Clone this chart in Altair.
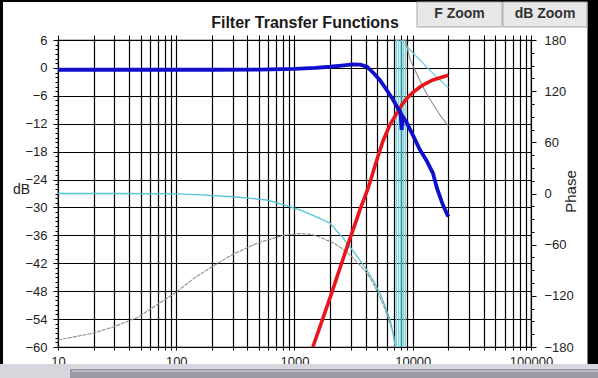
import altair as alt
import pandas as pd

# ---------------- data ----------------
lp_freq = [10, 20, 50, 100, 200, 500, 1000, 1500, 2000, 2500, 3100, 3600, 4100, 4700,
           5300, 6000, 6800, 7500, 7900, 8050, 8200, 8900, 10000, 11500, 13000, 14800,
           16000, 18000, 20000]
lp_db = [-0.4, -0.4, -0.4, -0.4, -0.4, -0.35, -0.2, 0.0, 0.25, 0.5, 0.75, 0.7, 0.25, -1.2,
         -2.7, -4.7, -6.8, -8.7, -9.6, -13.3, -10.4, -11.8, -14.4, -17.6, -19.8, -22.6,
         -25.8, -29.5, -32.0]

hp_freq = [1430, 2000, 2650, 3600, 4200, 4900, 5600, 6400, 7360, 8100, 8940, 10000,
           11500, 13000, 14800, 17000, 20000]
hp_db = [-60, -49.4, -40.1, -30.3, -25.8, -20.3, -15.7, -12.3, -9.7, -7.9, -6.5, -5.3,
         -4.1, -3.3, -2.6, -2.1, -1.6]

cy_freq = [10, 30, 100, 160, 300, 585, 800, 1110, 1500, 2000, 2500, 2950, 3500, 4100,
           4700, 5280, 5900, 6430, 6800, 7100]
cy_db = [-27.0, -27.0, -27.1, -27.3, -27.7, -28.4, -29.4, -30.5, -31.9, -33.4, -36.2,
         -38.5, -41.0, -43.5, -46.0, -48.5, -51.5, -54.2, -56.8, -60.0]

gr_freq = [10, 20, 30, 47.5, 70, 100, 140, 193, 300, 482, 800, 1110, 1400, 1650, 2200,
           2780, 3400, 4100, 4700, 5280, 5900, 6430, 6900, 7300]
gr_db = [-58.5, -57.0, -55.6, -53.6, -50.8, -48.2, -45.3, -43.0, -40.1, -37.7, -36.0,
         -35.6, -35.8, -36.4, -37.8, -39.6, -41.8, -44.1, -46.6, -49.3, -52.2, -54.9,
         -57.5, -60.0]

ph1_freq = [7250, 7250, 7600, 7600, 7950, 7950, 8300, 8300, 8650, 8650,
            8940, 10000, 11500, 13000, 14800, 17000, 20000]
ph1_deg = [-180, 180, 180, -180, -180, 180, 180, -180, -180, 180,
           172, 165, 156.5, 149, 141, 133, 124]

ph2_freq = [8650, 9500, 11000, 12500, 14500, 17000, 20000]
ph2_deg = [180, 157, 138, 122, 107, 92, 79]

x_ticks = [m * 10 ** k for k in range(1, 5) for m in range(1, 10)] + [100000]
x_labels = [10, 100, 1000, 10000, 100000]
db_ticks = list(range(-60, 7))
phase_ticks = list(range(-180, 181, 15))

title_text = "Filter Transfer Functions"
btn1_text = "F Zoom"
btn2_text = "dB Zoom"

# ---------------- layout ----------------
W, H = 473, 307
FONT = "Liberation Sans"
BLACK = "#000000"

xscale = alt.Scale(type="log", domain=[10, 100000], nice=False)
dbscale = alt.Scale(domain=[-60, 6], nice=False, zero=False)
phscale = alt.Scale(domain=[-180, 180], nice=False, zero=False)

lab_expr_x = "indexof(%s, datum.value) >= 0 ? format(datum.value, 'd') : ''" % str(x_labels)

x_bottom = alt.Axis(values=x_ticks, labelExpr=lab_expr_x, grid=True, gridColor=BLACK,
                    gridWidth=1.2, tickSize=3, tickColor=BLACK, domain=False,
                    labelFont=FONT, labelFontSize=13, labelColor="#222222",
                    labelPadding=5, labelFlush=False, labelOverlap=False,
                    labelBound=False, title=None)
x_top = alt.Axis(orient="top", values=x_ticks, labels=False, grid=False, tickSize=5,
                 tickColor=BLACK, domain=False, title=None)

y_left = alt.Axis(values=db_ticks,
                  labelExpr="datum.value % 6 == 0 ? datum.label : ''",
                  grid=True, gridColor=BLACK, gridWidth=1.2,
                  gridOpacity={"condition": {"test": "datum.value % 6 == 0", "value": 1}, "value": 0},
                  tickSize={"condition": {"test": "datum.value % 6 == 0", "value": 5}, "value": 3},
                  tickColor=BLACK, domain=False, labelFont=FONT, labelFontSize=13,
                  labelColor="#222222", labelPadding=6, labelOverlap=False,
                  labelBound=False, labelFlush=False,
                  title="dB", titleAngle=0, titleX=-37, titleY=149, titleAlign="center",
                  titleBaseline="middle", titleFont=FONT, titleFontSize=14,
                  titleFontWeight="normal", titleColor="#222222")
y_right = alt.Axis(orient="right", values=phase_ticks,
                   labelExpr="datum.value % 60 == 0 ? datum.label : ''",
                   grid=False,
                   tickSize={"condition": {"test": "datum.value % 60 == 0", "value": 5}, "value": 3},
                   tickColor=BLACK, domain=False, labelFont=FONT, labelFontSize=13,
                   labelColor="#222222", labelPadding=8, labelOverlap=False,
                   labelBound=False, labelFlush=False,
                   title="Phase", titleAngle=270, titleX=39, titleY=151,
                   titleAlign="center", titleBaseline="middle", titleFont=FONT,
                   titleFontSize=15, titleFontWeight="normal", titleColor="#222222")


def db_line(freq, db, color, width, xaxis=None, yaxis=None, dash=None):
    df = pd.DataFrame({"f": freq, "v": db, "i": list(range(len(freq)))})
    kw = dict(color=color, strokeWidth=width, clip=True)
    if dash:
        kw["strokeDash"] = dash
    return alt.Chart(df).mark_line(**kw).encode(
        x=alt.X("f:Q", scale=xscale, axis=xaxis),
        y=alt.Y("v:Q", scale=dbscale, axis=yaxis),
        order=alt.Order("i:Q"),
    )


def ph_line(freq, deg, color, width, xaxis=None, yaxis=None, opacity=1.0):
    df = pd.DataFrame({"f": freq, "p": deg, "i": list(range(len(freq)))})
    return alt.Chart(df).mark_line(color=color, strokeWidth=width, clip=True,
                                   opacity=opacity).encode(
        x=alt.X("f:Q", scale=xscale, axis=xaxis),
        y=alt.Y("p:Q", scale=phscale, axis=yaxis),
        order=alt.Order("i:Q"),
    )


def rect(x1, x2, y1, y2, fill, stroke=None, sw=0):
    df = pd.DataFrame({"k": [fill]})
    kw = dict(color=fill, strokeWidth=sw)
    if stroke:
        kw["stroke"] = stroke
    return alt.Chart(df).mark_rect(**kw).encode(
        x=alt.value(x1), x2=alt.value(x2), y=alt.value(y1), y2=alt.value(y2))


def label(txt, x, y, size, weight="normal", color="#222222"):
    df = pd.DataFrame({"t": [txt]})
    return alt.Chart(df).mark_text(font=FONT, fontSize=size, fontWeight=weight,
                                   color=color, align="center",
                                   baseline="middle").encode(
        x=alt.value(x), y=alt.value(y), text="t:N")


gray_db = db_line(gr_freq, gr_db, "#8c8c8c", 1.1, xaxis=x_bottom, yaxis=y_left, dash=[4, 1])
cyan_db = db_line(cy_freq, cy_db, "#55c4d4", 1.3)
cyan_ph = ph_line(ph1_freq, ph1_deg, "#6fcfdc", 1.5, xaxis=x_top, yaxis=y_right, opacity=0.9)
gray_ph = ph_line(ph2_freq, ph2_deg, "#8c8c8c", 1.1)
red_db = db_line(hp_freq, hp_db, "#e8161c", 3.6)
blue_db = db_line(lp_freq, lp_db, "#1010cc", 3.8)

# chrome (window frame, title and buttons) in pixel space relative to the plot
frame = [
    rect(-58, 540, -40, -38, "black"),
    rect(-58, -55, -40, 324, "black"),
    rect(529.5, 540, -40, 324, "black"),
    rect(-58, 540, 324, 338, "#d6d6dc"),
    rect(12, 540, 329, 338, "#9a9aa4"),
    rect(14, 540, 330.5, 332, "#c4c4ca"),
    rect(359, 444, -38, -13, "#e8e8e8", "#a8a8a8", 1),
    rect(445, 529, -38, -13, "#e8e8e8", "#a8a8a8", 1),
    label(btn1_text, 401.5, -26, 14, "bold", "#333333"),
    label(btn2_text, 487, -26, 14, "bold", "#333333"),
    label(title_text, 247, -17, 16, "bold", "#1a1a1a"),
]

chart = alt.layer(gray_db, cyan_db, cyan_ph, gray_ph, red_db, blue_db, *frame).resolve_scale(
    y="independent"
).resolve_axis(
    x="independent", y="independent"
).properties(
    width=W, height=H,
    autosize=alt.AutoSizeParams(type="none"),
    padding={"left": 58, "top": 40, "right": 67, "bottom": 31},
    background="#ffffff",
).configure_view(stroke="#000000", strokeWidth=1.2, fill="#ffffff")

chart.save("out.html", embed_options={"renderer": "svg", "actions": False})
